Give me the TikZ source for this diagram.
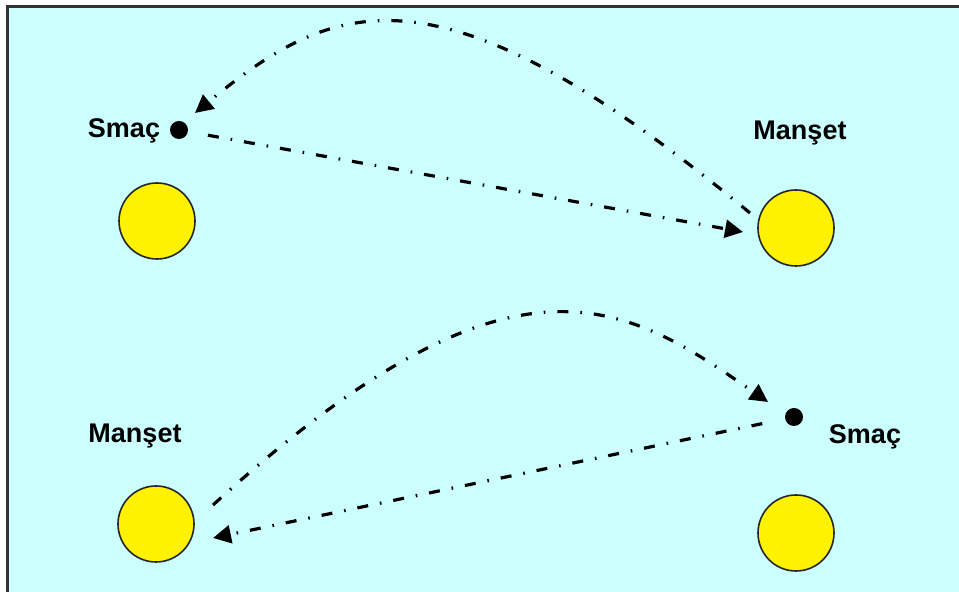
\documentclass[tikz,border=0pt]{standalone}
\usepackage{fontspec}
\setmainfont{Liberation Sans}
\usetikzlibrary{arrows.meta}
\definecolor{bgcyan}{RGB}{204,255,255}
\definecolor{framegray}{RGB}{51,51,51}

\begin{document}
\begin{tikzpicture}[x=0.5pt,y=-0.5pt,
        ball/.style={circle,fill=yellow,draw=black!85,line width=0.8pt,minimum size=38pt,inner sep=0pt},
        dot/.style={circle,fill=black,minimum size=9pt,inner sep=0pt},
        lbl/.style={font=\fontsize{13.5}{16}\selectfont\bfseries,inner sep=0pt,anchor=base},
        move/.style={line width=1.6pt,dash pattern=on 5.5pt off 6pt on 0.8pt off 6pt,-{Triangle[length=9pt,width=9pt]}}]
                \clip (0,0) rectangle (959,592);
                \fill[white] (0,0) rectangle (959,592);
                \draw[fill=bgcyan,draw=framegray,line width=1.5pt] (7,7) rectangle (990,620);

                \node[ball] (circA) at (157,221) {};
                \node[ball] (circB) at (796,228) {};
                \node[ball] (circC) at (156,524) {};
                \node[ball] (circD) at (796,533) {};

                \node[dot] (ballA) at (179,130) {};
                \node[dot] (ballB) at (794,417) {};

                \node[lbl] (smacA)   at (124,138) {Smaç};
                \node[lbl] (mansetA) at (800,140) {Manşet};
                \node[lbl] (mansetB) at (135,443) {Manşet};
                \node[lbl] (smacB)   at (865,444) {Smaç};

                \coordinate (hitB)  at (743,232);
                \coordinate (backB) at (750,213);
                \coordinate (hitA)  at (195,113);
                \coordinate (backC) at (213,505);
                \coordinate (hitD)  at (768,402);
                \coordinate (hitC)  at (213,538);

                \draw[move,shorten <=10pt] (ballA) -- (hitB);
                \draw[move] (backB) .. controls (438,-45) and (335,-2) .. (hitA);
                \draw[move] (backC) .. controls (515,230) and (625,303) .. (hitD);
                \draw[move,shorten <=11.5pt] (ballB) -- (hitC);
            \end{tikzpicture}
\end{document}
